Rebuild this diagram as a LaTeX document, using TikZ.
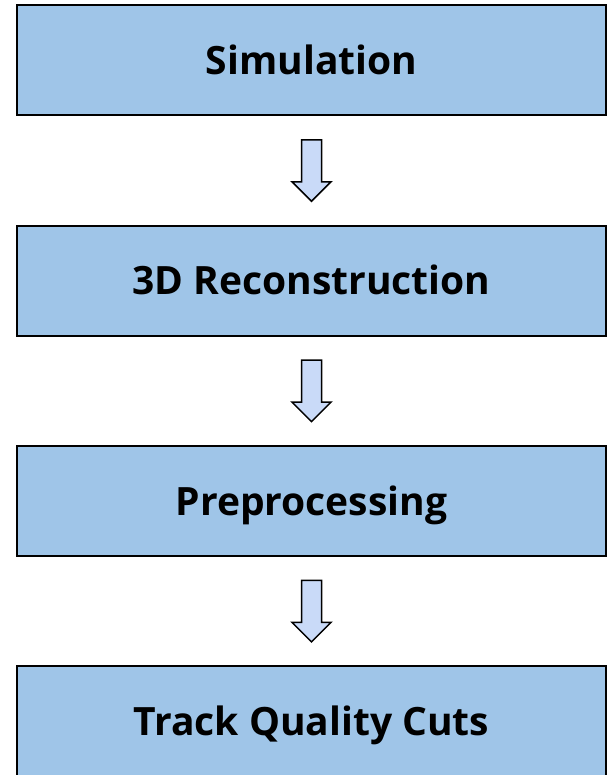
\documentclass[tikz,border=0pt]{standalone}
\usepackage{fontspec}
\setmainfont{Open Sans}
\usetikzlibrary{positioning,shapes.arrows}

\definecolor{stagefill}{HTML}{9FC5E8}
\definecolor{flowfill}{HTML}{C9DAF8}

\begin{document}
\begin{tikzpicture}[x=1pt,y=1pt,
  node distance=22.5pt,
  stage/.style={draw,line width=2pt,fill=stagefill,minimum width=589pt,minimum height=110pt,
    text height=27.8pt,text depth=0pt,font=\fontsize{39}{45}\selectfont\bfseries},
  flow/.style={single arrow,draw,line width=1.5pt,fill=flowfill,shape border rotate=270,
    minimum height=61.5pt,inner sep=9.25pt,single arrow head extend=9.5pt}]
\useasboundingbox (0,0) rectangle (611,-775);
\node[stage] (sim) at (311.5,-60.5) {Simulation};
\node[flow,below=of sim] (a1) {};
\node[stage,below=of a1] (rec) {3D Reconstruction};
\node[flow,below=of rec] (a2) {};
\node[stage,below=of a2] (pre) {Preprocessing};
\node[flow,below=of pre] (a3) {};
\node[stage,below=of a3] (cuts) {Track Quality Cuts};
\end{tikzpicture}
\end{document}
